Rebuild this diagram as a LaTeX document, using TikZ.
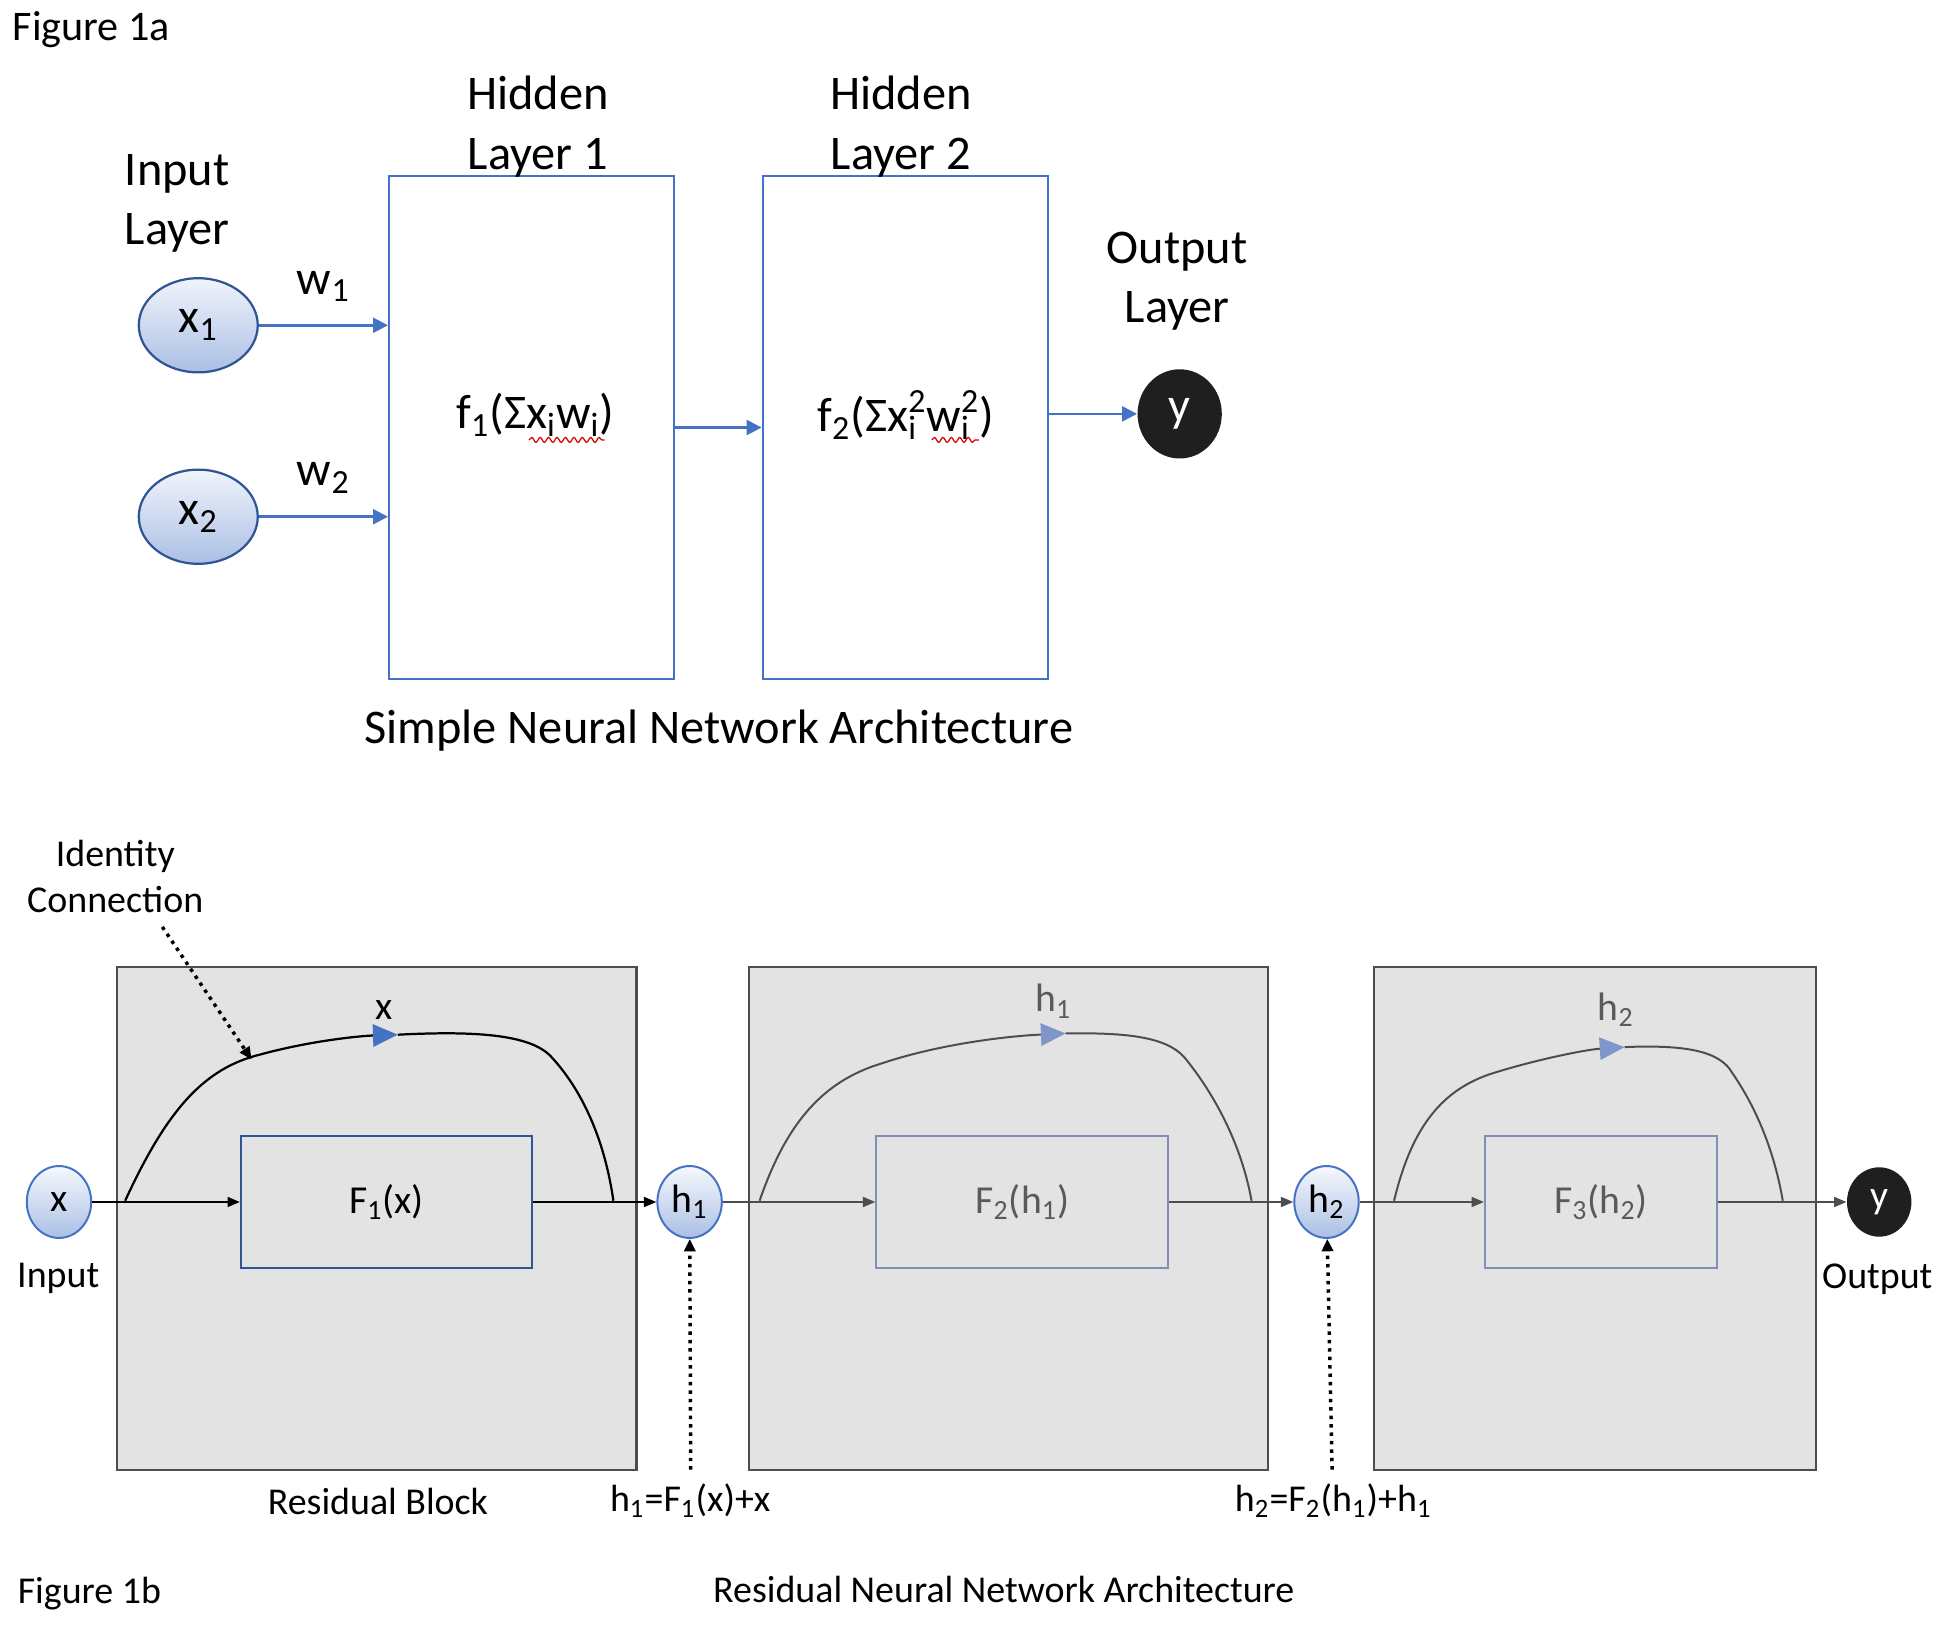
\documentclass[tikz,border=0pt]{standalone}
\usepackage{fontspec}
\setmainfont{Carlito}
\usetikzlibrary{arrows.meta,shapes.geometric,decorations.pathmorphing}

\definecolor{lineblue}{HTML}{4472C4}
\definecolor{darkblue}{HTML}{2F5597}
\definecolor{fadeblue}{HTML}{7F96C8}
\definecolor{fadebox}{HTML}{7F8FB5}
\definecolor{blockgray}{HTML}{E3E3E3}
\definecolor{edgegray}{HTML}{4D4D4D}
\definecolor{fadetext}{HTML}{5A5A5A}

\newcommand{\supsub}[2]{\ooalign{\textsuperscript{#1}\cr\textsubscript{#2}\cr}}

\tikzset{
	toplbl/.style={font=\fontsize{19.5}{24}\selectfont, align=center, inner sep=0pt},
	botlbl/.style={font=\fontsize{15.3}{18.5}\selectfont, align=center, inner sep=0pt},
	layer/.style={draw=lineblue, line width=0.9pt, minimum width=115pt, minimum height=203pt, inner sep=0pt},
	innode/.style={ellipse, draw=darkblue, line width=0.9pt, top color=lineblue!8, bottom color=lineblue!45,
		minimum width=48pt, minimum height=38pt, inner sep=0pt, font=\fontsize{19.5}{24}\selectfont},
	hnode/.style={ellipse, draw=lineblue, line width=0.8pt, top color=lineblue!5, bottom color=lineblue!45,
		minimum width=26pt, minimum height=29pt, inner sep=0pt, font=\fontsize{16}{19}\selectfont},
	outnode/.style={ellipse, fill=black!88, text=white, inner sep=0pt},
	link/.style={lineblue, line width=1pt, -{Triangle[length=6pt,width=6pt]}},
	block/.style={fill=blockgray, draw=edgegray, line width=0.9pt, inner sep=0pt},
	fbox/.style={draw=darkblue, line width=0.8pt, minimum height=53pt, inner sep=0pt, font=\fontsize{16}{19}\selectfont},
	flow/.style={line width=0.8pt, -{Triangle[length=5pt,width=4pt]}},
	skip/.style={line width=0.9pt},
	skiptip/.style={-{Triangle[length=10pt,width=9pt,color=#1]}},
	dotarrow/.style={dotted, line width=1.4pt, -{Triangle[length=5pt,width=4.5pt]}},
	squig/.style={red!85!black, line width=0.5pt, decorate, decoration={snake, amplitude=1pt, segment length=3.4pt}},
}

\begin{document}
\begin{tikzpicture}[x=0.5pt, y=-0.5pt]
	\useasboundingbox (0,0) rectangle (1568,1311);

	% Figure 1a
	\node[anchor=base west, inner sep=0pt, font=\fontsize{17}{20}\selectfont] (fig1a) at (10,33) {Figure 1a};

	\node[layer] (hl1) at (429,345) {};
	\node[layer] (hl2) at (730.5,345) {};
	\node[toplbl] (hl1lbl) at (434,102) {Hidden\\Layer 1};
	\node[toplbl] (hl2lbl) at (727,102) {Hidden\\Layer 2};
	\node[toplbl] (inlbl) at (143,164) {Input\\Layer};
	\node[toplbl] (outlbl) at (950,227) {Output\\Layer};

	\node[innode] (x1) at (160,262.5) {x\textsubscript{1}};
	\node[innode] (x2) at (160,417) {x\textsubscript{2}};
	\node[outnode, minimum width=34pt, minimum height=36pt, font=\fontsize{19.5}{24}\selectfont] (ytop) at (952,334) {y};

	\node[toplbl] (f1) at (432,335) {f\textsubscript{1}(Σx\textsubscript{i}w\textsubscript{i})};
	\node[toplbl] (f2) at (731,335) {f\textsubscript{2}(Σx\supsub{2}{i}w\supsub{2}{i})};
	\draw[squig] (427,355) -- (488,355);
	\draw[squig] (752,355) -- (790,355);

	\draw[link] (x1) -- (x1 -| hl1.west) node[midway, above=9pt, toplbl, text=black] (w1) {w\textsubscript{1}};
	\draw[link] (x2) -- (x2 -| hl1.west) node[midway, above=9pt, toplbl, text=black] (w2) {w\textsubscript{2}};
	\draw[link] (hl1) -- (hl2);
	\draw[link] (hl2.east |- ytop) -- (ytop);

	\node[toplbl, anchor=base] (cap1) at (580,600) {Simple Neural Network Architecture};

	% Figure 1b
	\node[block, minimum width=209.5pt, minimum height=203pt] (blk1) at (304.2,983.2) {};
	\node[block, minimum width=209.5pt, minimum height=203pt] (blk2) at (813.8,983.2) {};
	\node[block, minimum width=178.2pt, minimum height=203pt] (blk3) at (1287.3,983.2) {};

	\node[fbox, minimum width=117.6pt] (fb1) at (312,970) {F\textsubscript{1}(x)};
	\node[fbox, draw=fadebox, text=fadetext, minimum width=117.8pt] (fb2) at (825,970) {F\textsubscript{2}(h\textsubscript{1})};
	\node[fbox, draw=fadebox, text=fadetext, minimum width=93.7pt] (fb3) at (1292,970) {F\textsubscript{3}(h\textsubscript{2})};

	\node[hnode] (xin) at (47.6,970) {x};
	\node[hnode] (h1) at (556.5,970) {h\textsubscript{1}};
	\node[hnode] (h2) at (1070.5,970) {h\textsubscript{2}};
	\node[outnode, minimum width=26pt, minimum height=28pt, font=\fontsize{16}{19}\selectfont] (ybot) at (1516.5,970) {y};

	\node[botlbl, anchor=base] (inbot) at (47,1039) {Input};
	\node[botlbl, anchor=base] (outbot) at (1515,1040) {Output};

	\draw[flow] (xin) -- (fb1);
	\draw[flow] (fb1) -- (h1);
	\draw[flow, edgegray] (h1) -- (fb2);
	\draw[flow, edgegray] (fb2) -- (h2);
	\draw[flow, edgegray] (h2) -- (fb3);
	\draw[flow, edgegray] (fb3) -- (ybot);

	% identity connections
	\coordinate (s1) at (101,969);  \coordinate (m1) at (321,835);  \coordinate (e1) at (495,969);
	\coordinate (s2) at (613,969);  \coordinate (m2) at (860,834);  \coordinate (e2) at (1010,969);
	\coordinate (s3) at (1125,969); \coordinate (m3) at (1311,845); \coordinate (e3) at (1438.7,969);

	\draw[skip, skiptip=lineblue] (s1) .. controls (135,895) and (165,862) .. (210,851)
		.. controls (250,840) and (290,836) .. (m1);
	\draw[skip] (m1) .. controls (380,832) and (428,834) .. (445,853)
		.. controls (470,880) and (488,920) .. (e1);
	\draw[skip, edgegray, line width=0.8pt, skiptip=fadeblue] (s2) .. controls (635,905) and (665,872) .. (712,858)
		.. controls (760,842) and (815,836) .. (m2);
	\draw[skip, edgegray, line width=0.8pt] (m2) .. controls (915,833) and (945,838) .. (958,856)
		.. controls (985,890) and (1003,930) .. (e2);
	\draw[skip, edgegray, line width=0.8pt, skiptip=fadeblue] (s3) .. controls (1138,915) and (1160,880) .. (1205,866)
		.. controls (1240,855) and (1280,847) .. (m3);
	\draw[skip, edgegray, line width=0.8pt] (m3) .. controls (1360,843) and (1388,848) .. (1398,866)
		.. controls (1418,895) and (1432,930) .. (e3);

	\node[botlbl, font=\fontsize{16}{19}\selectfont] (xlbl) at (310,815) {x};
	\node[botlbl, font=\fontsize{16}{19}\selectfont, text=fadetext] (h1lbl) at (850,808) {h\textsubscript{1}};
	\node[botlbl, font=\fontsize{16}{19}\selectfont, text=fadetext] (h2lbl) at (1304,815) {h\textsubscript{2}};

	\node[botlbl] (idlbl) at (93,707) {Identity\\Connection};
	\coordinate (d0) at (131,748);
	\coordinate (d0end) at (203,855);
	\draw[dotarrow] (d0) -- (d0end);

	\coordinate (d1) at (557.4,1186);
	\coordinate (d2) at (1075,1186);
	\draw[dotarrow] (d1) -- (h1);
	\draw[dotarrow] (d2) -- (h2);

	\node[botlbl, anchor=base] (blklbl) at (305,1222) {Residual Block};
	\node[botlbl, anchor=base] (h1eq) at (557,1220) {h\textsubscript{1}=F\textsubscript{1}(x)+x};
	\node[botlbl, anchor=base] (h2eq) at (1076,1220) {h\textsubscript{2}=F\textsubscript{2}(h\textsubscript{1})+h\textsubscript{1}};

	\node[botlbl, anchor=base west] (fig1b) at (14,1294) {Figure 1b};
	\node[botlbl, anchor=base] (cap2) at (810,1293) {Residual Neural Network Architecture};

\end{tikzpicture}
\end{document}
